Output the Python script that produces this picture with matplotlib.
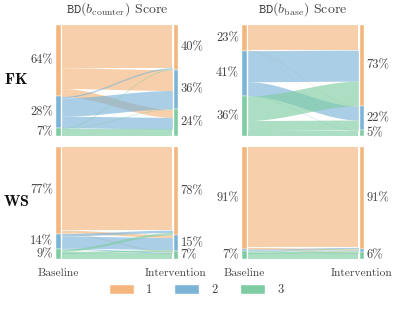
import numpy as np
import matplotlib
matplotlib.use("Agg")
import matplotlib.pyplot as plt
from matplotlib.patches import Patch

plt.rcParams['font.family'] = 'cmr10'
plt.rcParams['mathtext.fontset'] = 'cm'
plt.rcParams['axes.unicode_minus'] = False

# score categories and colors
categories = ['1', '2', '3']
colors = ['#f4b67d', '#7bb4d7', '#7ecda2']

# flow matrices in percent, rows = baseline score, cols = intervention score
flows_fk_counter = np.array([[38.5, 18.7, 7.2],
                             [1.2, 16.6, 10.5],
                             [0.6, 0.4, 6.3]])
flows_fk_base = np.array([[22.6, 0.3, 0.2],
                          [28.0, 12.6, 0.3],
                          [22.1, 9.0, 4.9]])
flows_ws_counter = np.array([[74.2, 2.5, 0.6],
                             [2.2, 10.7, 1.0],
                             [2.0, 1.6, 5.2]])
flows_ws_base = np.array([[89.6, 1.0, 0.6],
                          [0.9, 0.6, 0.3],
                          [0.5, 1.4, 5.1]])

row_labels = ['FK', 'WS']
col_titles = [r'$\mathtt{BD}(b_{\mathrm{counter}})$ Score',
              r'$\mathtt{BD}(b_{\mathrm{base}})$ Score']
side_labels = ['Baseline', 'Intervention']

W, H = 397, 309
fig = plt.figure(figsize=(W / 100, H / 100), dpi=100)

bw = 4.5 / 122   # node bar width (axes units)
gap = 1.2 / 122  # white gap between bar and flows
fs = 9
txt_color = '#444444'


def add_panel(left, top, width, height):
    return fig.add_axes([left / W, 1 - (top + height) / H, width / W, height / H])


def draw_alluvial(ax, flows):
    left_tot = flows.sum(axis=1)
    right_tot = flows.sum(axis=0)
    left_start = np.concatenate([[0], np.cumsum(left_tot)[:-1]])
    right_start = np.concatenate([[0], np.cumsum(right_tot)[:-1]])

    # node bars
    for k in range(3):
        ax.bar(0, left_tot[k], bottom=left_start[k], width=bw, align='edge',
               color=colors[k], edgecolor='white', linewidth=0.3)
        ax.bar(1 - bw, right_tot[k], bottom=right_start[k], width=bw, align='edge',
               color=colors[k], edgecolor='white', linewidth=0.3)

    # flows, stacked by target on the left and by source on the right
    x0, x1 = bw + gap, 1 - bw - gap
    t = np.linspace(0, 1, 120)
    s = 3 * t ** 2 - 2 * t ** 3
    xs = x0 + (x1 - x0) * t
    src_off = left_start.copy()
    for i in range(3):
        for j in range(3):
            v = flows[i, j]
            if v <= 0:
                continue
            ys = src_off[i]
            yt = right_start[j] + sum(flows[:i, j])
            top = ys + (yt - ys) * s
            ax.fill_between(xs, top, top + v, color=colors[i], alpha=0.65,
                            linewidth=0)
            src_off[i] += v

    # percent labels
    for k in range(3):
        if left_tot[k] >= 4:
            ax.text(-0.025, left_start[k] + left_tot[k] / 2, f'{left_tot[k]:.0f}%',
                    ha='right', va='center', fontsize=fs, color=txt_color)
        if right_tot[k] >= 4:
            ax.text(1.02, right_start[k] + right_tot[k] / 2, f'{right_tot[k]:.0f}%',
                    ha='left', va='center', fontsize=fs, color=txt_color)

    ax.set_xlim(0, 1)
    ax.set_ylim(100, 0)
    ax.axis('off')


panels = [[flows_fk_counter, flows_fk_base], [flows_ws_counter, flows_ws_base]]
lefts = [56, 242]
tops = [25, 147]
heights = [111, 112]

for r in range(2):
    for c in range(2):
        ax = add_panel(lefts[c], tops[r], 122, heights[r])
        draw_alluvial(ax, panels[r][c])
        if r == 0:
            ax.text(0.5, 1.065, col_titles[c], transform=ax.transAxes,
                    ha='center', va='bottom', fontsize=10, color=txt_color)
        if r == 1:
            ax.text(bw / 2, -0.085, side_labels[0], transform=ax.transAxes,
                    ha='center', va='top', fontsize=8.3, color=txt_color)
            ax.text(1 - bw / 2, -0.085, side_labels[1], transform=ax.transAxes,
                    ha='center', va='top', fontsize=8.3, color=txt_color)

# row labels
fig.text(15.5 / W, 1 - 79.5 / H, r'$\mathbf{' + row_labels[0] + '}$',
         ha='center', va='center', fontsize=11.5, color='#111111')
fig.text(16.5 / W, 1 - 202 / H, r'$\mathbf{' + row_labels[1] + '}$',
         ha='center', va='center', fontsize=11.5, color='#111111')

# legend
handles = [Patch(facecolor=colors[k], edgecolor='white', label=categories[k])
           for k in range(3)]
fig.legend(handles=handles, loc='center', bbox_to_anchor=(196 / W, 1 - 290 / H),
           ncol=3, frameon=False, fontsize=fs, handlelength=2.0, handleheight=0.9,
           columnspacing=1.8, handletextpad=0.95, labelcolor=txt_color)

fig.savefig('out.png', dpi=100)
